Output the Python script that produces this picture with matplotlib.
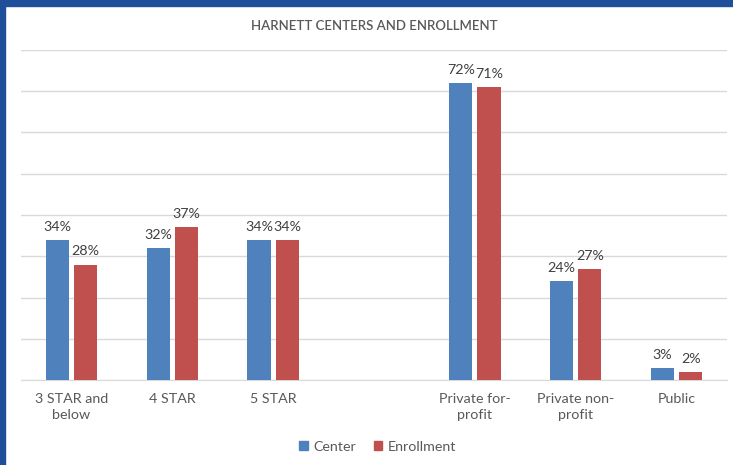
import matplotlib.pyplot as plt
import numpy as np
from matplotlib.patches import Rectangle

plt.rcParams['font.family'] = ['Lato', 'DejaVu Sans']

# Daten
categories = ["3 STAR and\nbelow", "4 STAR", "5 STAR", "", "Private for-\nprofit", "Private non-\nprofit", "Public"]
center = [34, 32, 34, None, 72, 24, 3]
enrollment = [28, 37, 34, None, 71, 27, 2]

BLUE = "#4F81BD"
RED = "#C0504D"
TEXT = "#595959"

fig = plt.figure(figsize=(7.33, 4.65), dpi=100)
ax = fig.add_axes([21/733, 1 - 380/465, 706/733, 330/465])

x = np.arange(len(categories))
w = 0.23
gap = 0.05

for i in range(len(categories)):
    if center[i] is None:
        continue
    ax.bar(x[i] - (w + gap) / 2, center[i], w, color=BLUE, zorder=3)
    ax.bar(x[i] + (w + gap) / 2, enrollment[i], w, color=RED, zorder=3)
    ax.text(x[i] - (w + gap) / 2, center[i] + 1.7, f"{center[i]}%", ha="center", va="bottom",
            fontsize=10.3, color="#404040")
    ax.text(x[i] + (w + gap) / 2, enrollment[i] + 1.7, f"{enrollment[i]}%", ha="center", va="bottom",
            fontsize=10.3, color="#404040")

ax.set_xlim(-0.5, len(categories) - 0.5)
ax.set_ylim(0, 80)
ax.set_yticks(np.arange(0, 81, 10))
ax.set_yticklabels([])
ax.yaxis.grid(True, color="#D9D9D9", linewidth=1, zorder=0)
ax.tick_params(axis="y", length=0)
ax.set_xticks(x)
ax.set_xticklabels(categories, fontsize=10.3, color=TEXT, linespacing=1.45)
ax.tick_params(axis="x", length=0, pad=9)
for s in ["top", "right", "left"]:
    ax.spines[s].set_visible(False)
ax.spines["bottom"].set_color("#D9D9D9")

fig.text(374/733, 1 - 26/465, "HARNETT CENTERS AND ENROLLMENT", ha="center", va="center",
         fontsize=9.5, color=TEXT, fontweight="semibold")

h1 = Rectangle((0, 0), 1, 1, color=BLUE)
h2 = Rectangle((0, 0), 1, 1, color=RED)
fig.legend([h1, h2], ["Center", "Enrollment"], loc="center", bbox_to_anchor=(378/733, 1 - 447/465),
           ncol=2, frameon=False, fontsize=10.3, handlelength=0.6, handleheight=0.6,
           handletextpad=0.4, columnspacing=1.2, labelcolor=TEXT)

# Rahmen
fig.patches.append(Rectangle((0, 1 - 6/465), 1, 6/465, transform=fig.transFigure, color="#1F4E9B", zorder=10))
fig.patches.append(Rectangle((0, 0), 5/733, 1, transform=fig.transFigure, color="#1F4E9B", zorder=10))

fig.savefig("out.png", dpi=100)
